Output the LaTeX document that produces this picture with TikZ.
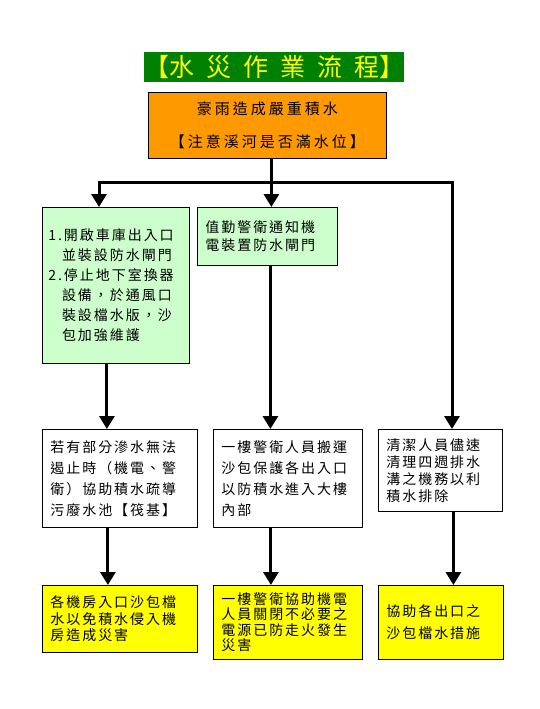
\documentclass[tikz,border=0pt]{standalone}
\usepackage{fontspec}
\newfontfamily\cjkfont{Noto Sans CJK TC}[LetterSpace=14]
\newfontfamily\cjkwide{Noto Sans CJK TC}[LetterSpace=20]
\newfontfamily\cjktitle{Noto Sans CJK TC}
\usetikzlibrary{arrows.meta,positioning}
\definecolor{wfgreen}{RGB}{0,128,0}
\definecolor{wfyellow}{RGB}{255,255,0}
\definecolor{wforange}{RGB}{255,153,0}
\definecolor{wfmint}{RGB}{204,255,204}
\tikzset{
  box/.style={rectangle,draw=black,line width=0.8pt,fill=#1,anchor=north west,
              inner xsep=8pt,inner ysep=0pt,align=left,
              font=\fontsize{14}{20}\selectfont\cjkfont},
  box/.default=white,
  lead/.style={font=\fontsize{14}{#1}\selectfont\cjkfont},
  arr/.style={->,>={Triangle[length=13pt,width=15pt]},line width=3pt},
}
\newcommand{\tgap}{\hspace{12pt}}
\begin{document}
\begin{tikzpicture}[x=1pt,y=-1pt]
  \useasboundingbox[fill=white] (0,0) rectangle (540,709);
  % title and cause
  \node[rectangle,fill=wfgreen,anchor=north west,minimum width=248pt,minimum height=30pt,
        inner sep=0pt,text=wfyellow,font=\fontsize{25}{25}\selectfont\cjktitle]
        (title) at (144,52) {【水\tgap 災\tgap 作\tgap 業\tgap 流\tgap 程】};
  \node[box=wforange,align=center,text width=222pt,minimum height=66pt,
        font=\fontsize{15}{33}\selectfont\cjkwide]
        (rain) at (148,92) {豪雨造成嚴重積水\\【注意溪河是否滿水位】};
  % first row
  \node[box=wfmint,text width=135pt,minimum height=156pt,inner xsep=6pt,lead=20] (gate) at (42,207)
        {1.開啟車庫出入口\\\hphantom{1.}並裝設防水閘門\\2.停止地下室換器\\
         \hphantom{2.}設備，於通風口\\\hphantom{2.}裝設檔水版，沙\\\hphantom{2.}包加強維護};
  \node[box=wfmint,text width=124pt,minimum height=58pt,lead=18] (duty) at (197,207)
        {值勤警衛通知機\\電裝置防水閘門};
  % second row
  \node[box,text width=139pt,minimum height=98pt,lead=21] (pump) at (42,429)
        {若有部分滲水無法\\遏止時（機電、警\\衛）協助積水疏導\\污廢水池【筏基】};
  \node[box,text width=133pt,minimum height=98pt,lead=21] (sandbag) at (213,429)
        {一樓警衛人員搬運\\沙包保護各出入口\\以防積水進入大樓\\內部};
  \node[box,text width=108pt,minimum height=82pt,lead=17] (clean) at (378,429)
        {清潔人員儘速\\清理四週排水\\溝之機務以利\\積水排除};
  % third row
  \node[box=wfyellow,text width=139pt,minimum height=67pt,lead=16.5] (seal) at (42,585)
        {各機房入口沙包檔\\水以免積水侵入機\\房造成災害};
  \node[box=wfyellow,text width=133pt,minimum height=74pt,lead=15.5] (power) at (213,585)
        {一樓警衛協助機電\\人員關閉不必要之\\電源已防走火發生\\災害};
  \node[box=wfyellow,text width=109pt,minimum height=74pt,lead=22] (exits) at (378,585)
        {協助各出口之\\沙包檔水措施};
  % connectors
  \coordinate (forkL) at (99,182);
  \coordinate (forkR) at (452,182);
  \draw[arr] ([xshift=4pt]rain.south) -- ([xshift=4pt]rain.south |- duty.north);
  \draw[arr,<->] (forkL |- gate.north) -- (forkL) -- (forkR) -- (forkR |- clean.north);
  \draw[arr] ([xshift=-9pt]gate.south) -- ([xshift=-9pt]gate.south |- pump.north);
  \draw[arr] ([xshift=3pt]duty.south) -- ([xshift=3pt]duty.south |- sandbag.north);
  \draw[arr] ([xshift=-12pt]pump.south) -- ([xshift=-12pt]pump.south |- seal.north);
  \draw[arr] ([xshift=-17pt]sandbag.south) -- ([xshift=-17pt]sandbag.south |- power.north);
  \draw[arr] ([xshift=13pt]clean.south) -- ([xshift=13pt]clean.south |- exits.north);
\end{tikzpicture}
\end{document}
